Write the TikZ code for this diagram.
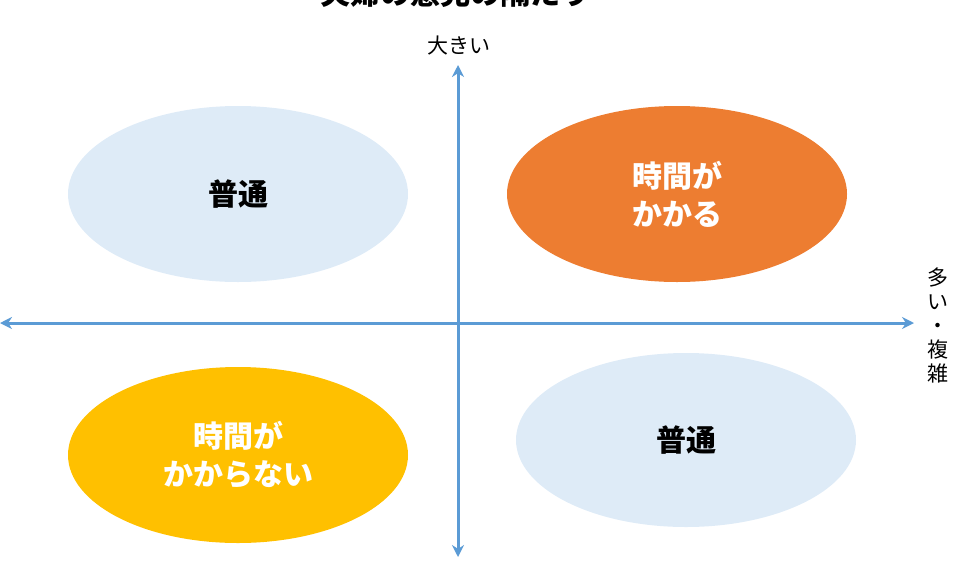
\documentclass[tikz,border=0pt]{standalone}
\usepackage{fontspec}
\newfontfamily\jp{Noto Sans CJK JP}
\usetikzlibrary{arrows.meta}
\definecolor{axisblue}{HTML}{5B9BD5}
\definecolor{paleblue}{HTML}{DEEBF7}
\definecolor{orangeA}{HTML}{ED7D31}
\definecolor{goldA}{HTML}{FFC000}
\begin{document}
\begin{tikzpicture}[x=1pt,y=-1pt,
  axis/.style={draw=axisblue,line width=3pt,{Stealth[length=12pt,width=12pt]}-{Stealth[length=12pt,width=12pt]}},
  big/.style={font=\jp\bfseries\fontsize{30}{38}\selectfont, align=center},
  lbl/.style={font=\jp\fontsize{21}{24}\selectfont, align=center}]
\useasboundingbox (0,0) rectangle (965,565);
\node[font=\jp\bfseries\fontsize{30}{34}\selectfont, anchor=base] (title) at (455,4) {夫婦の意見の隔たり};
\fill[paleblue] (238,194) ellipse [x radius=170, y radius=88];
\fill[orangeA] (677,194) ellipse [x radius=170, y radius=88];
\fill[goldA] (238,455) ellipse [x radius=170, y radius=88];
\fill[paleblue] (686,440) ellipse [x radius=170, y radius=87];
\node[big] (tl) at (238,194) {普通};
\node[big, text=white] (tr) at (677,194) {時間が\\かかる};
\node[big, text=white] (bl) at (238,455) {時間が\\かからない};
\node[big] (br) at (686,440) {普通};
\coordinate (top) at (458,65);
\coordinate (bot) at (458,557);
\coordinate (left) at (0,323);
\coordinate (right) at (914,323);
\draw[axis] (bot) -- (top);
\draw[axis] (left) -- (right);
\node[lbl] (ylab) at (459,46) {大きい};
\node[lbl, inner sep=0pt] (xlab) at (938,325) {多\\い\\・\\複\\雑};
\end{tikzpicture}
\end{document}
